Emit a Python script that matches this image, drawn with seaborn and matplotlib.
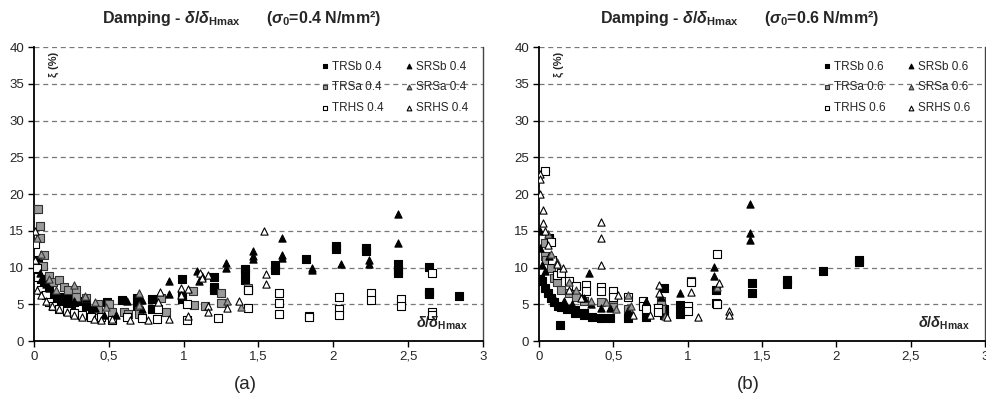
import matplotlib
matplotlib.use("Agg")
import seaborn as sns
from matplotlib import pyplot as plt
from matplotlib.ticker import FuncFormatter
import pandas as pd

# ---- panel (a): sigma0 = 0.4 N/mm2 ----
trsb_04 = [(0.01, 18.0), (0.03, 11.0), (0.05, 8.5), (0.07, 7.5), (0.09, 6.5), (0.10, 7.0), (0.12, 6.0),
           (0.14, 5.5), (0.17, 5.2), (0.19, 6.0), (0.21, 4.8), (0.23, 5.7), (0.25, 4.5), (0.27, 5.3),
           (0.30, 5.4), (0.35, 4.7), (0.39, 4.2), (0.49, 5.3), (0.59, 5.6), (0.69, 5.8), (0.69, 4.7),
           (0.79, 5.7), (0.79, 4.4), (0.99, 8.5), (0.99, 6.1), (0.99, 5.7), (1.20, 8.7), (1.20, 7.3),
           (1.20, 6.9), (1.41, 9.8), (1.41, 9.4), (1.41, 8.3), (1.61, 10.4), (1.61, 9.7), (1.82, 11.2),
           (2.02, 12.9), (2.02, 12.5), (2.22, 12.6), (2.22, 12.2), (2.43, 10.5), (2.43, 9.6), (2.43, 9.3),
           (2.64, 10.1), (2.64, 6.7), (2.64, 6.4), (2.84, 6.1)]
trsa_04 = [(0.03, 17.9), (0.04, 15.6), (0.04, 14.0), (0.07, 11.7), (0.06, 10.2), (0.10, 8.8), (0.13, 8.0),
           (0.17, 8.3), (0.20, 7.4), (0.23, 6.9), (0.28, 7.0), (0.28, 6.0), (0.35, 5.8), (0.43, 5.0),
           (0.43, 4.2), (0.50, 5.1), (0.52, 4.0), (0.60, 4.0), (0.63, 3.7), (0.70, 4.1), (0.70, 3.7),
           (0.85, 5.9), (0.88, 4.0), (1.06, 6.8), (1.07, 4.9), (1.14, 4.8), (1.25, 6.6), (1.25, 5.2),
           (1.43, 7.2), (1.43, 6.9)]
trhs_04 = [(0.01, 13.2), (0.02, 10.0), (0.03, 8.7), (0.05, 7.0), (0.08, 6.3), (0.10, 5.3), (0.13, 4.8),
           (0.17, 4.4), (0.22, 4.1), (0.27, 3.8), (0.32, 3.5), (0.38, 3.2), (0.45, 3.3), (0.52, 2.9),
           (0.62, 3.3), (0.72, 3.1), (0.82, 3.0), (0.83, 4.3), (1.02, 2.8), (1.02, 5.0), (1.23, 3.1),
           (1.43, 4.5), (1.43, 7.0), (1.64, 6.5), (1.64, 5.2), (1.64, 3.7), (1.84, 3.4), (1.84, 3.2),
           (2.04, 6.0), (2.04, 4.3), (2.04, 3.6), (2.25, 6.5), (2.25, 5.6), (2.45, 5.7), (2.45, 4.8),
           (2.66, 9.3), (2.66, 3.9), (2.66, 3.5)]
srsb_04 = [(0.04, 9.3), (0.05, 8.5), (0.08, 7.8), (0.10, 7.2), (0.15, 6.5), (0.20, 5.5), (0.27, 5.5),
           (0.35, 5.8), (0.41, 4.5), (0.47, 3.5), (0.55, 3.6), (0.62, 5.4), (0.72, 4.3), (0.72, 5.6),
           (0.90, 8.2), (0.90, 6.4), (1.09, 9.5), (1.10, 8.2), (1.12, 8.8), (1.28, 10.6), (1.28, 10.0),
           (1.46, 12.2), (1.46, 11.6), (1.46, 11.2), (1.66, 14.0), (1.66, 11.7), (1.66, 11.3),
           (1.86, 9.9), (1.86, 9.7), (2.05, 10.5), (2.24, 11.0), (2.24, 10.5), (2.43, 17.3), (2.43, 13.3)]
srsa_04 = [(0.02, 14.0), (0.05, 11.8), (0.10, 8.5), (0.15, 7.0), (0.27, 7.6), (0.34, 6.1), (0.41, 5.3),
           (0.48, 4.6), (0.70, 6.6), (0.70, 4.9), (1.29, 5.5), (1.38, 4.6)]
srhs_04 = [(0.01, 15.0), (0.01, 11.0), (0.02, 7.0), (0.05, 6.2), (0.08, 5.5), (0.12, 4.8), (0.17, 4.3),
           (0.22, 4.0), (0.27, 3.6), (0.32, 3.2), (0.40, 3.0), (0.45, 2.9), (0.52, 3.0), (0.64, 2.9),
           (0.76, 2.9), (0.90, 3.0), (0.84, 6.7), (0.83, 5.3), (0.98, 7.2), (0.98, 6.3), (1.03, 7.1),
           (1.03, 3.4), (1.11, 9.3), (1.12, 8.6), (1.16, 9.0), (1.16, 4.8), (1.16, 3.9), (1.29, 4.5),
           (1.37, 5.4), (1.54, 15.0), (1.55, 9.1), (1.55, 7.7)]

# ---- panel (b): sigma0 = 0.6 N/mm2 ----
trsb_06 = [(0.01, 8.5), (0.02, 8.2), (0.04, 7.2), (0.06, 6.5), (0.07, 14.0), (0.08, 5.8), (0.10, 5.3),
           (0.13, 4.8), (0.14, 2.2), (0.15, 4.6), (0.19, 4.4), (0.24, 3.8), (0.24, 4.2), (0.30, 3.5),
           (0.30, 3.8), (0.36, 3.3), (0.42, 3.1), (0.48, 3.1), (0.60, 3.1), (0.72, 3.2), (0.84, 7.2),
           (0.84, 4.4), (0.84, 3.5), (0.95, 4.9), (0.95, 3.7), (1.19, 7.0), (1.19, 5.2), (1.43, 7.9),
           (1.43, 6.5), (1.67, 8.3), (1.67, 7.7), (1.91, 9.5), (2.15, 11.0), (2.15, 10.8)]
trsa_06 = [(0.04, 13.3), (0.04, 11.6), (0.05, 11.0), (0.08, 10.0), (0.10, 8.6), (0.12, 8.0), (0.15, 7.0),
           (0.20, 6.5), (0.25, 6.0), (0.30, 5.5), (0.42, 5.3), (0.50, 5.0), (0.50, 4.6), (0.60, 4.4),
           (0.82, 5.4), (0.82, 4.3), (1.02, 8.2), (1.20, 5.0)]
trhs_06 = [(0.04, 23.2), (0.08, 13.5), (0.09, 11.0), (0.12, 9.0), (0.15, 9.3), (0.20, 8.2), (0.25, 7.5),
           (0.32, 7.6), (0.32, 6.8), (0.42, 7.3), (0.42, 6.8), (0.50, 6.8), (0.50, 6.0), (0.60, 6.0),
           (0.70, 5.5), (0.70, 4.8), (0.72, 4.3), (0.80, 4.5), (0.80, 3.9), (1.00, 4.8), (1.00, 4.1),
           (1.02, 8.0), (1.20, 11.9), (1.20, 5.0)]
srsb_06 = [(0.01, 15.0), (0.01, 12.7), (0.02, 10.4), (0.04, 9.5), (0.07, 11.5), (0.10, 5.8), (0.17, 5.5),
           (0.22, 5.0), (0.30, 5.8), (0.34, 9.3), (0.35, 5.0), (0.42, 4.5), (0.48, 4.5), (0.60, 4.2),
           (0.72, 5.5), (0.82, 6.0), (0.95, 6.5), (1.18, 10.1), (1.18, 8.8), (1.42, 18.7), (1.42, 14.7),
           (1.42, 13.8)]
srsa_06 = [(0.06, 14.5), (0.08, 11.8), (0.12, 10.8), (0.20, 8.0), (0.25, 7.0), (0.35, 5.5), (0.45, 5.3),
           (0.52, 4.4), (0.60, 6.2), (0.62, 4.8), (0.85, 3.4), (1.20, 7.3)]
srhs_06 = [(0.01, 22.7), (0.01, 22.1), (0.01, 20.0), (0.03, 17.8), (0.03, 16.0), (0.04, 15.0), (0.06, 13.0),
           (0.12, 10.5), (0.16, 10.0), (0.20, 7.0), (0.28, 5.8), (0.42, 16.2), (0.42, 14.0), (0.42, 10.3),
           (0.53, 6.2), (0.63, 3.5), (0.75, 3.5), (0.81, 7.6), (0.81, 6.6), (0.86, 3.2), (1.02, 6.7),
           (1.07, 3.3), (1.21, 7.9), (1.28, 4.1), (1.28, 3.6)]

series_names = ["TRSb", "TRSa", "TRHS", "SRSb", "SRSa", "SRHS"]
panel_04 = [trsb_04, trsa_04, trhs_04, srsb_04, srsa_04, srhs_04]
panel_06 = [trsb_06, trsa_06, trhs_06, srsb_06, srsa_06, srhs_06]

# marker, face, edge
styles = {
    "TRSb": ("s", "black", "black"),
    "TRSa": ("s", "#9a9a9a", "#333333"),
    "TRHS": ("s", "white", "black"),
    "SRSb": ("^", "black", "black"),
    "SRSa": ("^", "#9a9a9a", "#333333"),
    "SRHS": ("^", "white", "black"),
}

sns.set_style("white")
plt.rcParams["font.family"] = ["Liberation Sans", "DejaVu Sans"]
plt.rcParams["mathtext.fontset"] = "custom"
plt.rcParams["mathtext.rm"] = "Liberation Sans:bold"
plt.rcParams["mathtext.it"] = "Liberation Sans:italic:bold"
plt.rcParams["mathtext.bf"] = "Liberation Sans:bold"


def to_frame(panel, level):
    rows = []
    for name, pts in zip(series_names, panel):
        for x, y in pts:
            rows.append({"x": x, "y": y, "series": f"{name} {level}"})
    return pd.DataFrame(rows)


def draw_panel(ax, df, level):
    for name in series_names:
        marker, face, edge = styles[name]
        sub = df[df.series == f"{name} {level}"]
        sns.scatterplot(data=sub, x="x", y="y", ax=ax, marker=marker, color=face,
                        edgecolor=edge, linewidth=0.8, s=27, label=f"{name} {level}", zorder=3)
    ax.set_xlim(0, 3)
    ax.set_ylim(0, 40)
    ax.set_xticks([0, 0.5, 1, 1.5, 2, 2.5, 3])
    ax.set_yticks(range(0, 41, 5))
    ax.xaxis.set_major_formatter(FuncFormatter(lambda v, p: f"{v:g}".replace(".", ",")))
    ax.set_xlabel("")
    ax.set_ylabel("")
    for yv in range(5, 41, 5):
        ax.axhline(yv, color="#777777", linestyle=(0, (4, 3)), linewidth=0.9, zorder=1)
    for side in ["left", "bottom"]:
        ax.spines[side].set_color("black")
        ax.spines[side].set_linewidth(1.3)
    ax.spines["top"].set_visible(False)
    ax.spines["right"].set_color("#444444")
    ax.spines["right"].set_linewidth(1.0)
    ax.tick_params(axis="both", labelsize=9.5, length=4, width=1, direction="out",
                   color="black", bottom=True, left=True, pad=3)
    ax.text(0.045, 0.985, "ξ (%)", transform=ax.transAxes, rotation=90, ha="center", va="top",
            fontsize=8, fontweight="bold")
    ax.text(0.965, 0.03, r"$\delta/\delta_{\mathrm{Hmax}}$", transform=ax.transAxes,
            ha="right", va="bottom", fontsize=10.5)
    ax.legend(ncol=2, loc="upper right", bbox_to_anchor=(0.99, 0.99), frameon=False,
              fontsize=8.5, markerscale=0.65, handletextpad=0.1, columnspacing=1.6,
              handlelength=1.0, labelspacing=0.75)


fig = plt.figure(figsize=(9.87, 4.03), dpi=100)
ax1 = fig.add_axes([0.0344, 0.1538, 0.455, 0.7295])
ax2 = fig.add_axes([0.546, 0.1538, 0.452, 0.7295])

draw_panel(ax1, to_frame(panel_04, "0.4"), "0.4")
draw_panel(ax2, to_frame(panel_06, "0.6"), "0.6")

title_a = r"Damping - $\mathit{\delta}/\mathit{\delta}_{\mathrm{Hmax}}$      ($\mathit{\sigma}_{\mathrm{0}}$=0.4 N/mm²)"
title_b = r"Damping - $\mathit{\delta}/\mathit{\delta}_{\mathrm{Hmax}}$      ($\mathit{\sigma}_{\mathrm{0}}$=0.6 N/mm²)"
fig.text(0.245, 0.953, title_a, ha="center", va="center", fontsize=11.5, fontweight="bold")
fig.text(0.749, 0.953, title_b, ha="center", va="center", fontsize=11.5, fontweight="bold")
fig.text(0.249, 0.045, "(a)", ha="center", va="center", fontsize=13.5)
fig.text(0.758, 0.045, "(b)", ha="center", va="center", fontsize=13.5)

fig.savefig("out.png", dpi=100)
